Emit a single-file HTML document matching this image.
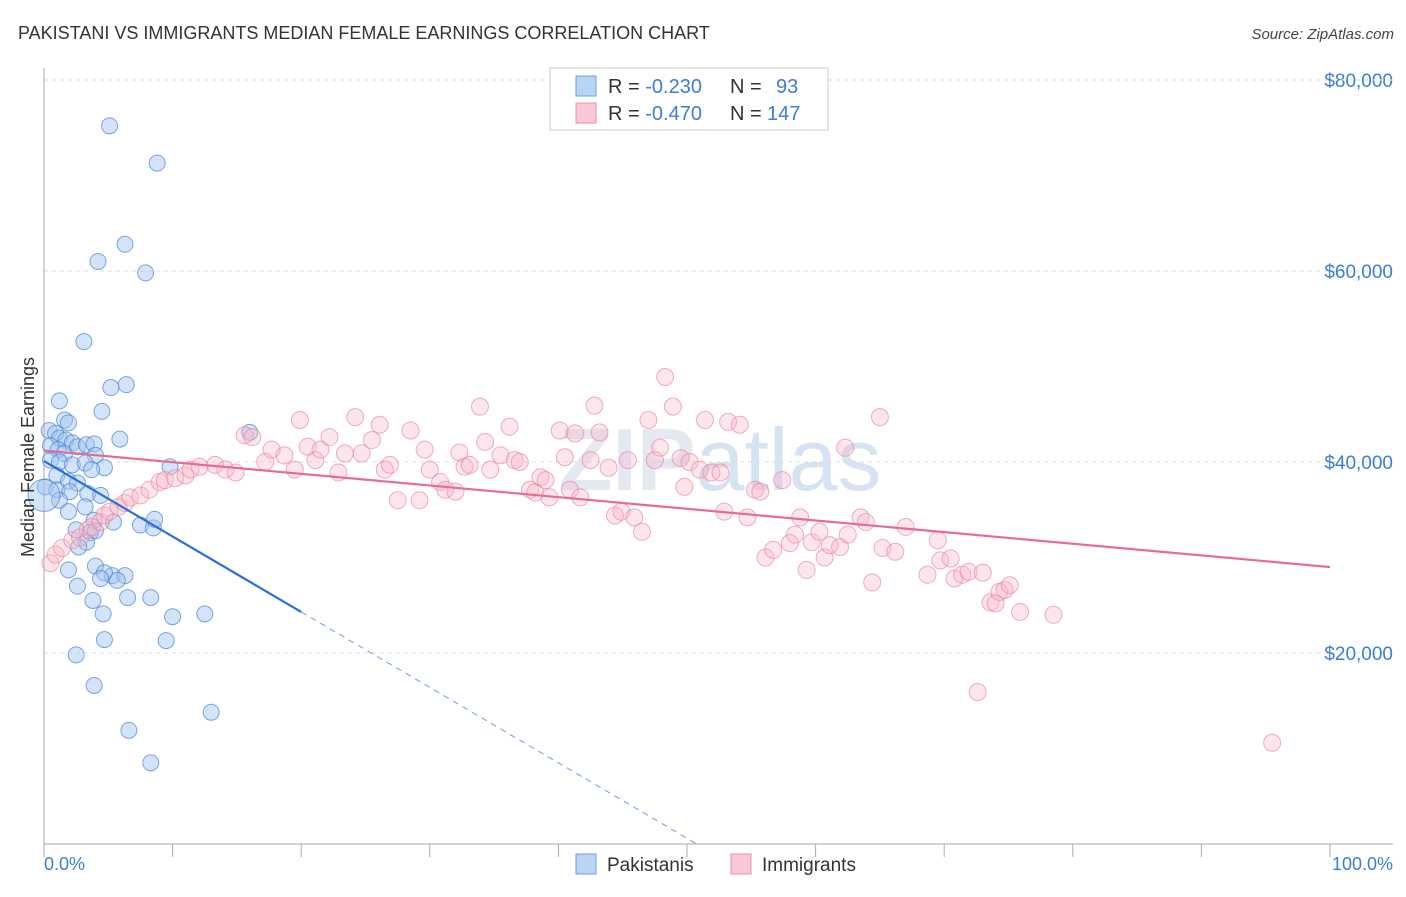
<!DOCTYPE html>
<html><head><meta charset="utf-8"><style>
body{margin:0;background:#fff;font-family:"Liberation Sans",sans-serif;}
svg text{font-family:"Liberation Sans",sans-serif;}
</style></head><body>
<svg id="chart" width="1406" height="892" xmlns="http://www.w3.org/2000/svg">
<text x="18" y="39" font-size="18" fill="#333">PAKISTANI VS IMMIGRANTS MEDIAN FEMALE EARNINGS CORRELATION CHART</text>
<text x="1394" y="39" font-size="15" fill="#444" font-style="italic" text-anchor="end">Source: ZipAtlas.com</text>
<text x="720" y="490" font-size="88" fill="#e4e9f1" text-anchor="middle" font-weight="bold">ZIP<tspan font-weight="normal" fill="#d6e3f3">atlas</tspan></text>
<g id="grid"></g>
<g id="axes"></g>
<g id="pts"></g>
<g id="trend"></g>
<text transform="translate(34,457) rotate(-90)" font-size="18" fill="#333" text-anchor="middle">Median Female Earnings</text>
<text x="44" y="870" font-size="18" fill="#3a7fd5">0.0%</text>
<text x="1393" y="870" font-size="18" fill="#3a7fd5" text-anchor="end">100.0%</text>
<g>
<rect x="550" y="68" width="278" height="62" fill="#fff" stroke="#ccc"/>
<rect x="576" y="76" width="20" height="20" fill="#b9d3f3" stroke="#6d9fe0"/>
<rect x="576" y="103" width="20" height="20" fill="#f8c8d6" stroke="#ea8fab"/>
<text x="608" y="93" font-size="20" fill="#333">R = <tspan fill="#3a7fd5">-0.230</tspan><tspan x="730">N = </tspan><tspan x="776" fill="#3a7fd5">93</tspan></text>
<text x="608" y="120" font-size="20" fill="#333">R = <tspan fill="#3a7fd5">-0.470</tspan><tspan x="730">N = </tspan><tspan x="767" fill="#3a7fd5">147</tspan></text>
</g>
<g>
<rect x="576" y="854" width="20" height="20" fill="#b9d3f3" stroke="#6d9fe0"/>
<text x="607" y="871" font-size="19" fill="#333">Pakistanis</text>
<rect x="731" y="854" width="20" height="20" fill="#f8c8d6" stroke="#ea8fab"/>
<text x="762" y="871" font-size="19" fill="#333">Immigrants</text>
</g>
</svg>
<script>
const yTicks=[20000,40000,60000,80000];
const yTickLabels=["$20,000","$40,000","$60,000","$80,000"];
const xTicks=[0,10,20,30,40,50,60,70,80,90,100];
const pakX=[5.1,8.8,6.3,4.2,7.9,3.1,6.4,5.2,1.2,4.5,1.6,1.9,0.4,0.9,1.2,1.7,2.2,0.5,1.1,1.6,2.6,3.3,3.9,5.9,4.0,0.5,1.2,2.2,3.2,4.7,3.7,1.0,1.9,2.6,0.1,1.0,2.0,3.4,4.4,1.2,3.2,1.9,3.9,5.4,2.5,3.6,4.0,7.5,8.5,8.6,3.3,2.7,9.8,16.0,5.3,1.9,4.0,4.7,6.3,5.7,4.4,2.6,3.8,6.5,8.3,4.6,10.0,12.5,4.7,9.5,2.5,3.9,13.0,6.6,8.3,0];
const pakY=[75200,71300,62800,61000,59800,52600,48100,47800,46400,45300,44400,44100,43300,43000,42500,42300,42000,41700,41300,40900,41600,41800,41900,42400,40700,40200,40000,39700,39900,39400,39200,38600,38000,37800,37400,37100,36900,36700,36500,36000,35300,34800,33900,33700,32900,32600,32800,33400,33100,34000,31600,31100,39500,43100,28100,28700,29100,28400,28100,27600,27800,27000,25500,25800,25800,24100,23800,24100,21400,21300,19800,16600,13800,11900,8500,36500];
const immX=[0.5,0.9,1.4,2.2,2.8,3.4,3.7,4.4,4.7,5.1,5.8,6.3,6.7,7.5,8.2,9.0,9.4,10.2,11.0,11.4,12.1,13.3,14.1,14.9,15.6,16.2,17.2,17.7,18.7,19.5,19.9,20.5,21.1,21.5,22.2,22.9,23.4,24.2,24.7,25.5,26.1,26.5,26.9,27.5,28.5,29.2,29.6,30.0,30.8,31.2,32.0,32.3,32.7,33.1,33.9,34.3,34.7,35.5,36.2,36.6,37.0,37.8,38.2,38.6,39.0,39.3,40.1,40.5,40.9,41.3,41.7,42.5,42.8,43.2,43.9,44.4,44.9,45.4,45.9,46.5,47.0,47.5,47.9,48.3,48.9,49.5,49.8,50.2,51.0,51.4,51.9,52.6,52.9,53.2,54.1,54.7,55.3,55.7,56.1,56.7,57.4,58.0,58.4,58.8,59.3,59.7,60.3,60.7,61.1,61.9,62.3,62.5,63.5,63.9,64.4,65.0,65.2,66.2,67.0,68.7,69.5,69.7,70.5,70.8,71.4,71.9,72.6,73.0,73.6,74.0,74.3,74.7,75.1,75.9,78.5,95.5];
const immY=[29400,30300,31000,31800,32100,32900,33200,33700,34400,34800,35300,35700,36300,36500,37100,37900,38100,38300,38600,39200,39500,39700,39200,38900,42800,42600,40000,41300,40700,39200,44400,41600,40200,41300,42600,38900,40900,44700,40900,42300,43900,39200,39700,36000,43300,36000,41300,39200,37900,37100,36900,41000,39500,39700,45800,42100,39200,40700,43700,40200,40000,37100,36800,38400,38100,36300,43300,40500,37100,43000,36300,40200,45900,43100,39400,34400,34800,40200,34200,32700,44400,40200,41500,48900,45800,40400,37400,40000,39200,44400,38900,38900,34800,44200,43900,34200,37100,36900,30000,30800,38100,31500,32400,34200,28700,31600,32700,30000,31300,31100,41500,32400,34200,33700,27400,44700,31000,30600,33200,28200,31800,29700,29900,27800,28200,28500,15900,28400,25300,25200,26400,26600,27100,24300,24000,10600];
const pakTrend=[40100,-790]; // intercept, slope per %
const pakSolidEnd=[20];
const immTrend=[41200,-122];

const X0=44,X1=1330,YB=844,PX=191/20000;
const sx=v=>X0+(X1-X0)*v/100;
const sy=v=>YB-v*PX;
const NS="http://www.w3.org/2000/svg";
function mk(parent,tag,attrs){const e=document.createElementNS(NS,tag);for(const k in attrs)e.setAttribute(k,attrs[k]);document.getElementById(parent).appendChild(e);return e;}

yTicks.forEach((t,i)=>{
  const l=mk('grid','line',{x1:X0,x2:1393,y1:sy(t),y2:sy(t),stroke:'#ddd','stroke-dasharray':'4,4'});
  
  
  const tx=mk('grid','text',{x:1393,y:sy(t)+7,'font-size':19,fill:'#3a7fd5','text-anchor':'end'});
  tx.textContent=yTickLabels[i];
  
  
});
const topG=mk('grid','line',{x1:X0,x2:1393,y1:80,y2:80,stroke:'#ddd','stroke-dasharray':'4,4'});


const xa=mk('axes','line',{x1:X0,x2:1393,y1:YB,y2:YB,stroke:'#aaa'});


const ya=mk('axes','line',{x1:X0,x2:X0,y1:68,y2:YB,stroke:'#aaa'});


xTicks.forEach(t=>{
  const l=mk('axes','line',{x1:sx(t),x2:sx(t),y1:YB,y2:YB+13,stroke:'#aaa'});
  
  
});
pakX.forEach((x,i)=>{
  const c=mk('pts','circle',{cx:sx(x),cy:sy(pakY[i]),r:(i===pakX.length-1)?16:8,fill:'rgba(160,196,240,0.45)',stroke:'rgba(70,130,215,0.7)','stroke-width':1});
  
  
});
immX.forEach((x,i)=>{
  const c=mk('pts','circle',{cx:sx(x),cy:sy(immY[i]),r:8.5,fill:'rgba(248,180,200,0.35)',stroke:'rgba(232,130,160,0.65)','stroke-width':1});
  
  
});
const pf=x=>pakTrend[0]+pakTrend[1]*x;
const zeroX=-pakTrend[0]/pakTrend[1];
let l1=mk('trend','line',{x1:sx(0),y1:sy(pf(0)),x2:sx(pakSolidEnd[0]),y2:sy(pf(pakSolidEnd[0])),stroke:'#2a70d6','stroke-width':2.2});


let l2=mk('trend','line',{x1:sx(pakSolidEnd[0]),y1:sy(pf(pakSolidEnd[0])),x2:sx(zeroX),y2:sy(0),stroke:'#6d9fe0','stroke-width':1,'stroke-dasharray':'6,5'});


const imf=x=>immTrend[0]+immTrend[1]*x;
let l3=mk('trend','line',{x1:sx(0),y1:sy(imf(0)),x2:sx(100),y2:sy(imf(100)),stroke:'#e86a93','stroke-width':2.2});


</script>
</body></html>
